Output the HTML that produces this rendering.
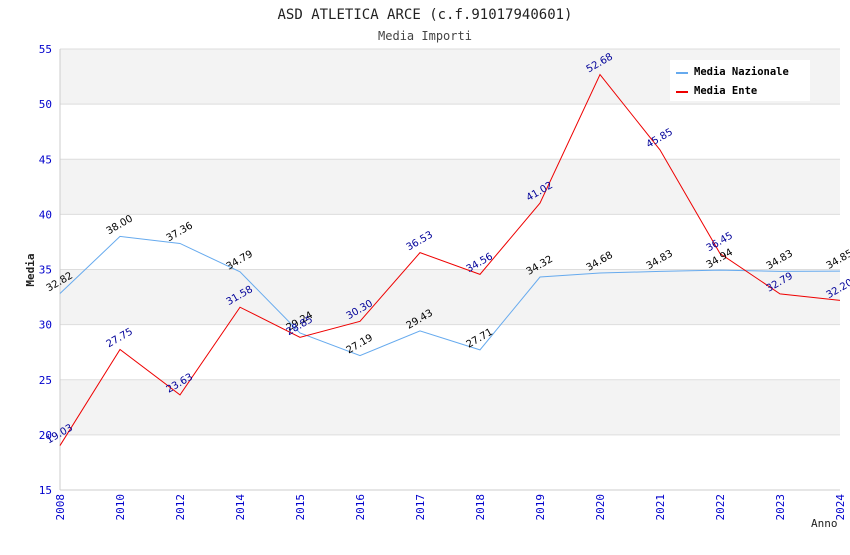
<!DOCTYPE html>
<html><head><meta charset="utf-8"><style>
body{margin:0;background:#fff;}
svg text{font-family:"DejaVu Sans Mono","Liberation Mono",monospace;}
svg text.val{font-family:"DejaVu Sans","Liberation Sans",sans-serif;}
</style></head><body>
<svg id="chart" width="850" height="550" xmlns="http://www.w3.org/2000/svg">
<text x="425" y="19" text-anchor="middle" font-size="14" fill="#222">ASD ATLETICA ARCE (c.f.91017940601)</text>
<text x="425" y="40" text-anchor="middle" font-size="12" fill="#444">Media Importi</text>
<g id="bands"></g><g id="grid"></g><g id="axes"></g><g id="series"></g><g id="labels"></g>
<text transform="translate(34,270) rotate(-90)" text-anchor="middle" font-size="11" font-weight="bold" fill="#222">Media</text>
<text x="811" y="527" font-size="11" fill="#222">Anno</text>
<g>
<rect x="670" y="60" width="140" height="41" fill="#fff"/>
<line x1="676" y1="73" x2="688" y2="73" stroke="#66aaee" stroke-width="2"/>
<text x="694" y="75" font-size="10.5" font-weight="bold" fill="#000">Media Nazionale</text>
<line x1="676" y1="92" x2="688" y2="92" stroke="#ee0000" stroke-width="2"/>
<text x="694" y="94" font-size="10.5" font-weight="bold" fill="#000">Media Ente</text>
</g>
</svg>
<script>
const categories=["2008","2010","2012","2014","2015","2016","2017","2018","2019","2020","2021","2022","2023","2024"];
const nazionale=[32.82,38.00,37.36,34.79,29.24,27.19,29.43,27.71,34.32,34.68,34.83,34.94,34.83,34.85];
const ente=[19.03,27.75,23.63,31.58,28.85,30.30,36.53,34.56,41.02,52.68,45.85,36.45,32.79,32.20];
const yTicks=[15,20,25,30,35,40,45,50,55];
const NS="http://www.w3.org/2000/svg";
const X0=60,X1=840,Y0=490,Y1=49,YMIN=15,YMAX=55;
function x(i){return X0+i*(X1-X0)/(categories.length-1);}
function y(v){return Y0-(v-YMIN)*(Y0-Y1)/(YMAX-YMIN);}
function mk(t,a,p){const e=document.createElementNS(NS,t);for(const k in a)e.setAttribute(k,a[k]);p.appendChild(e);return e;}
const bands=document.getElementById('bands'),grid=document.getElementById('grid'),axes=document.getElementById('axes'),series=document.getElementById('series'),labels=document.getElementById('labels');
for(let i=0;i<yTicks.length-1;i++){
  const r=mk('rect',{x:X0,y:y(yTicks[i+1]),width:X1-X0,height:y(yTicks[i])-y(yTicks[i+1]),fill:(i%2===1)?'#f3f3f3':'#ffffff'},bands);
  
  
}
yTicks.forEach(t=>{
  const l=mk('line',{x1:X0,x2:X1,y1:y(t),y2:y(t),stroke:'#dddddd','stroke-width':1},grid);
  
  
  const tx=mk('text',{x:X0-8,y:y(t)+4,'text-anchor':'end','font-size':11,fill:'#0000cc'},axes);
  tx.textContent=t;
  
  
});
mk('line',{x1:X0,x2:X0,y1:Y1,y2:Y0,stroke:'#ccc'},axes);
mk('line',{x1:X0,x2:X1,y1:Y0,y2:Y0,stroke:'#ccc'},axes);
categories.forEach((c,i)=>{
  const tx=mk('text',{transform:`translate(${x(i)+4},${Y0+4}) rotate(-90)`,'text-anchor':'end','font-size':11,fill:'#0000cc'},axes);
  tx.textContent=c;
  
  
});
function draw(data,color,lc,name){
  const p=mk('polyline',{points:data.map((v,i)=>x(i)+','+y(v)).join(' '),fill:'none',stroke:color,'stroke-width':1},series);
  
  
  data.forEach((v,i)=>{
    const t=mk('text',{class:'val',transform:`translate(${x(i)+1},${y(v)-9}) rotate(-30)`,'text-anchor':'middle','font-size':10,fill:lc},labels);
    t.textContent=v.toFixed(2);
    
    
  });
}
draw(nazionale,'#66aaee','#000','line-nazionale');
draw(ente,'#ee0000','#000099','line-ente');
</script>
</body></html>
